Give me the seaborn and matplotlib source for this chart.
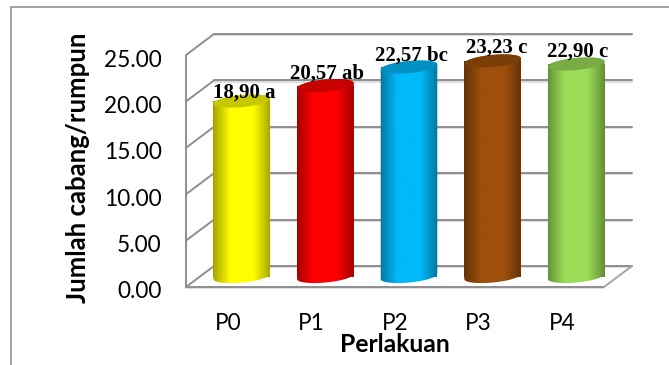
import numpy as np
import matplotlib
matplotlib.use("Agg")
import matplotlib.pyplot as plt
import seaborn as sns
from matplotlib.lines import Line2D
from matplotlib.patches import PathPatch, Polygon
from matplotlib.path import Path
from matplotlib.transforms import Affine2D

categories = ["P0", "P1", "P2", "P3", "P4"]
values = [18.90, 20.57, 22.57, 23.23, 22.90]
value_labels = ["18,90 a", "20,57 ab", "22,57 bc", "23,23 c", "22,90 c"]
bar_colors = ["#FFFF00", "#FF0000", "#00B9F9", "#9E4F0B", "#9BDD57"]
y_ticks = [0, 5, 10, 15, 20, 25]
y_tick_labels = ["0.00", "5.00", "10.00", "15.00", "20.00", "25.00"]
label_shift_x = [2, 2, 2.5, 4, 1.5]
label_shift_y = [9, 12, 11, 13, 12]

W, H = 669, 365
sns.set_theme(style="white")
plt.rcParams["font.family"] = ["Lato", "DejaVu Sans"]

fig = plt.figure(figsize=(W / 100, H / 100), dpi=100, facecolor="white")
ax = fig.add_axes([200 / W, 1 - 276.5 / H, 418 / W, 232 / H])

sns.barplot(x=categories, y=values, hue=categories, palette=bar_colors,
            width=0.68, legend=False, saturation=1, ax=ax)
ax.set_xlim(-0.5, 4.5)
ax.set_ylim(0, 25)
ax.patch.set_visible(False)
sns.despine(ax=ax, left=True, bottom=True)

px_x = 418 / 5      # pixels per category
px_y = 232 / 25     # pixels per value unit
dx = 14 / px_x      # half depth of the 3D box, in data units
dy = 10.5 / px_y

grid = dict(color="#8E8E8E", lw=1.4, clip_on=False, zorder=1, solid_capstyle="round")
glow = dict(color="#DDDDDD", lw=1.4, clip_on=False, zorder=0.9)
for v in y_ticks:
    # back wall and side wall lines
    ax.plot([-0.5 + dx, 4.5 + dx], [v + dy - 0.14] * 2, **glow)
    ax.plot([-0.5 + dx, 4.5 + dx], [v + dy] * 2, **grid)
    ax.plot([-0.5 - dx, -0.5 + dx], [v - dy, v + dy], **grid)
# front edge of the side wall, floor outline
ax.plot([-0.5 - dx] * 2, [-dy, 25 - dy], **grid)
ax.plot([-0.5 - dx, 4.5 - dx], [-dy, -dy], **grid)
ax.plot([-0.5 - dx, 4.5 - dx], [-dy - 0.14] * 2, **glow)
ax.plot([4.5 - dx, 4.5 + dx], [-dy, dy], color="#A6A6A6", lw=1.4, clip_on=False, zorder=1)


def ellipse(cx, cy, a, b, tilt, t):
    """Tilted ellipse outline, sized in pixels and returned in data units."""
    ex = a * np.cos(t) * np.cos(tilt) - b * np.sin(t) * np.sin(tilt)
    ey = a * np.cos(t) * np.sin(tilt) + b * np.sin(t) * np.cos(tilt)
    return np.column_stack([cx + ex / px_x, cy + ey / px_y])


tilt = np.radians(5.5)
minor = 6.0
shade = np.interp(np.linspace(0, 1, 256), [0, 0.3, 0.68, 1], [0.62, 1, 1, 0.6])

for bar, color in zip(ax.patches, bar_colors):
    rgb = np.array(matplotlib.colors.to_rgb(color))
    x0, w, top = bar.get_x(), bar.get_width(), bar.get_height()
    cx = x0 + w / 2
    a = w * px_x / 2
    bar.set_facecolor(rgb * 0.62)
    bar.set_linewidth(0)
    bar.set_zorder(2)

    lower = ellipse(cx, 0, a, minor, tilt, np.linspace(np.pi, 2 * np.pi, 50))
    upper = ellipse(cx, top, a, minor, tilt, np.linspace(0, np.pi, 50))
    body = np.vstack([lower, upper, lower[:1]])
    clip = PathPatch(Path(body), transform=ax.transData, fc="none", ec="none")
    ax.add_patch(clip)

    gradient = (shade[None, :, None] * rgb[None, None, :]).clip(0, 1)
    img = ax.imshow(gradient, extent=[x0 - 0.02, x0 + w + 0.02, -1.5, top + 1.5], aspect="auto",
                    zorder=3, interpolation="bilinear")
    # let the rounded base hang below the axes box
    img.set_clip_box(fig.bbox)
    img.set_clip_path(clip)

    cap = ellipse(cx, top, a, minor, tilt, np.linspace(0, 2 * np.pi, 100))
    ax.add_patch(Polygon(cap, closed=True, fc=rgb * 0.78, ec="none", zorder=4, clip_on=False))

ax.set_xlim(-0.5, 4.5)
ax.set_ylim(0, 25)

for i, (v, text) in enumerate(zip(values, value_labels)):
    ax.annotate(text, (i, v), xytext=(label_shift_x[i] * 0.72, label_shift_y[i] * 0.72),
                textcoords="offset points", ha="center", va="center", zorder=6,
                fontsize=15, fontweight="bold", family="Liberation Serif",
                color="black", annotation_clip=False)

ax.set_xticks(range(len(categories)), categories)
ax.set_yticks(y_ticks, y_tick_labels)
ax.tick_params(axis="both", length=0, labelsize=16.3, labelcolor="black")
ax.tick_params(axis="y", pad=27.5)
ax.tick_params(axis="x", pad=26)
for lab in ax.get_xticklabels():
    lab.set_transform(lab.get_transform() + Affine2D().translate(-14, 0))
for lab in ax.get_yticklabels():
    lab.set_transform(lab.get_transform() + Affine2D().translate(0, -13.5))

fig.text(395 / W, 1 - 345 / H, "Perlakuan", ha="center", va="center",
         fontsize=17.8, fontweight="bold", color="black")
fig.text(78 / W, 1 - 168 / H, "Jumlah cabang/rumpun", ha="center", va="center",
         rotation=90, fontsize=18.5, fontweight="bold", color="black")

# chart-area border runs off the top right and the bottom of the canvas
for xs, ys in [((10.5, 10.5), (6.5, H)), ((10.5, W), (6.5, 6.5))]:
    fig.add_artist(Line2D([x / W for x in xs], [1 - y / H for y in ys],
                          color="#9A9A9A", lw=1.3))

fig.savefig("out.png", dpi=100, facecolor="white")
